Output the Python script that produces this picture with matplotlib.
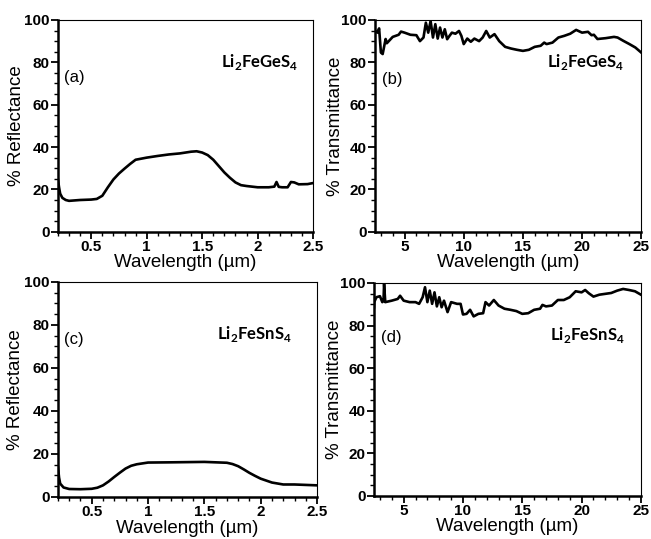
import matplotlib.pyplot as plt
from matplotlib.ticker import MultipleLocator

plt.rcParams['font.family'] = ['Liberation Sans', 'DejaVu Sans']
plt.rcParams['mathtext.fontset'] = 'custom'
plt.rcParams['mathtext.bf'] = 'Lato:bold'
plt.rcParams['mathtext.rm'] = 'Lato'

# (a) diffuse reflectance, Li2FeGeS4
wl_a = [0.2, 0.21, 0.22, 0.24, 0.27, 0.3, 0.4, 0.5, 0.55, 0.6, 0.65, 0.7, 0.75, 0.8, 0.85,
        0.9, 1.0, 1.1, 1.2, 1.3, 1.4, 1.45, 1.5, 1.55, 1.6, 1.65, 1.7, 1.75, 1.8, 1.85,
        1.9, 2.0, 2.1, 2.15, 2.17, 2.19, 2.22, 2.27, 2.3, 2.33, 2.37, 2.45, 2.5]
r_a = [24.7, 21.0, 18.0, 16.0, 15.0, 14.6, 15.0, 15.2, 15.5, 17.0, 21.0, 24.7, 27.5, 29.8, 32.0,
       34.0, 35.0, 35.8, 36.5, 37.0, 37.8, 38.0, 37.4, 36.2, 34.0, 31.0, 28.0, 25.5, 23.3, 22.0,
       21.6, 21.0, 21.0, 21.3, 23.5, 21.2, 21.0, 21.0, 23.5, 23.3, 22.4, 22.5, 23.0]

# (b) transmittance, Li2FeGeS4
wl_b = [2.5, 2.7, 2.85, 3.0, 3.15, 3.4, 3.5, 4.0, 4.5, 4.7, 5.0, 5.5, 6.0, 6.3, 6.6, 6.8,
        7.0, 7.2, 7.4, 7.6, 7.8, 8.0, 8.2, 8.4, 8.6, 8.8, 9.0, 9.3, 9.6, 9.8, 10.0, 10.3,
        10.6, 10.9, 11.3, 11.6, 11.9, 12.2, 12.6, 13.0, 13.5, 14.0, 14.5, 15.0, 15.5, 16.0,
        16.5, 16.8, 17.0, 17.5, 18.0, 18.5, 19.0, 19.5, 20.0, 20.5, 20.8, 21.0, 21.3, 22.0,
        22.7, 23.0, 23.5, 24.0, 24.5, 25.0]
t_b = [95.0, 94.0, 96.0, 84.6, 83.9, 91.0, 89.0, 92.0, 93.0, 94.5, 94.0, 93.0, 92.8, 90.0, 91.7, 98.7,
       94.0, 99.5, 91.7, 98.0, 91.2, 96.4, 91.7, 95.6, 90.9, 92.5, 94.0, 93.5, 94.8, 92.5, 88.6, 91.2,
       89.7, 91.2, 90.0, 91.7, 94.8, 91.7, 93.3, 90.0, 87.3, 86.5, 85.9, 85.4, 85.9, 87.3,
       87.8, 89.3, 88.6, 89.3, 91.7, 92.5, 93.5, 95.3, 94.0, 94.4, 92.8, 93.0, 91.0, 91.4,
       92.0, 91.7, 90.1, 88.6, 87.0, 84.6]

# (c) diffuse reflectance, Li2FeSnS4
wl_c = [0.2, 0.21, 0.22, 0.25, 0.3, 0.4, 0.5, 0.55, 0.6, 0.65, 0.7, 0.75, 0.8, 0.85, 0.9,
        1.0, 1.2, 1.5, 1.7, 1.75, 1.8, 1.85, 1.9, 1.95, 2.0, 2.1, 2.2, 2.3, 2.4, 2.5]
r_c = [14.0, 9.0, 6.2, 4.4, 3.7, 3.6, 3.8, 4.3, 5.4, 7.2, 9.3, 11.3, 13.2, 14.5, 15.2,
       16.0, 16.1, 16.3, 15.9, 15.3, 14.3, 12.8, 11.2, 9.8, 8.5, 6.7, 5.8, 5.8, 5.6, 5.4]

# (d) transmittance, Li2FeSnS4
wl_d = [2.5, 2.52, 2.7, 3.0, 3.2, 3.3, 3.35, 3.45, 4.0, 4.5, 4.7, 5.0, 5.5, 6.0, 6.3, 6.6,
        6.8, 7.0, 7.2, 7.4, 7.6, 7.8, 8.0, 8.2, 8.4, 8.7, 9.0, 9.5, 9.8, 10.0, 10.3, 10.6,
        10.9, 11.3, 11.7, 11.9, 12.2, 12.6, 13.0, 13.5, 14.0, 14.5, 15.0, 15.5, 16.0, 16.5,
        16.7, 17.0, 17.5, 18.0, 18.5, 19.0, 19.5, 20.0, 20.3, 20.6, 21.0, 21.5, 22.0, 22.5,
        23.0, 23.5, 24.0, 24.5, 25.0]
t_d = [88.6, 91.0, 93.3, 93.8, 91.0, 91.5, 99.5, 91.0, 91.7, 92.5, 94.0, 91.7, 91.0, 91.0, 90.2, 93.3,
       98.0, 91.0, 96.4, 90.2, 95.6, 89.0, 93.3, 88.6, 91.7, 86.3, 91.0, 90.2, 90.2, 85.2, 85.5, 87.4,
       84.3, 85.5, 85.8, 91.0, 89.4, 92.0, 89.4, 87.9, 87.4, 86.8, 85.5, 85.8, 87.4, 87.9,
       89.7, 89.0, 89.4, 92.0, 92.0, 93.3, 96.1, 95.6, 96.7, 95.2, 93.6, 94.5, 94.9, 95.3,
       96.4, 97.2, 96.7, 96.1, 94.5]

fig = plt.figure(figsize=(6.51, 5.39), dpi=100)

panels = [
    # rect, x, y, xlim, major, minor, ylabel, tag, tag pos, compound, compound pos, ylabel x
    ([0.089, 0.570, 0.392, 0.393], wl_a, r_a, (0.2, 2.5), 0.5, 0.1, '% Reflectance', '(a)',
     (0.025, 0.726), r'Li$_\mathbf{2}$FeGeS$_\mathbf{4}$', (0.79, 0.80), -0.13),
    ([0.576, 0.570, 0.409, 0.393], wl_b, t_b, (2.5, 25), 5, 1, '% Transmittance', '(b)',
     (0.025, 0.72), r'Li$_\mathbf{2}$FeGeS$_\mathbf{4}$', (0.79, 0.80), -0.115),
    ([0.089, 0.078, 0.398, 0.399], wl_c, r_c, (0.2, 2.5), 0.5, 0.1, '% Reflectance', '(c)',
     (0.025, 0.73), r'Li$_\mathbf{2}$FeSnS$_\mathbf{4}$', (0.76, 0.76), -0.13),
    ([0.5745, 0.080, 0.410, 0.395], wl_d, t_d, (2.5, 25), 5, 1, '% Transmittance', '(d)',
     (0.025, 0.746), r'Li$_\mathbf{2}$FeSnS$_\mathbf{4}$', (0.80, 0.756), -0.115),
]

for rect, x, y, xlim, major, minor, ylabel, tag, tagpos, comp, comppos, ylx in panels:
    ax = fig.add_axes(rect)
    ax.plot(x, y, color='black', linewidth=1.9)
    ax.set_xlim(*xlim)
    ax.set_ylim(0, 100)
    ax.xaxis.set_major_locator(MultipleLocator(major))
    ax.xaxis.set_minor_locator(MultipleLocator(minor))
    ax.yaxis.set_major_locator(MultipleLocator(20))
    ax.yaxis.set_minor_locator(MultipleLocator(5))
    if major == 0.5:
        ax.set_xticks([0.5, 1, 1.5, 2, 2.5])
        ax.set_xticklabels(['0.5', '1', '1.5', '2', '2.5'])
    ax.tick_params(which='major', direction='out', length=5, width=1.3, labelsize=11, pad=1)
    ax.tick_params(which='minor', direction='out', length=3, width=1.0)
    ax.tick_params(top=False, right=False)
    for lab in ax.get_xticklabels() + ax.get_yticklabels():
        lab.set_fontweight('bold')
    ax.spines['left'].set_linewidth(1.8)
    ax.spines['bottom'].set_linewidth(1.8)
    ax.spines['top'].set_linewidth(0.8)
    ax.spines['right'].set_linewidth(0.8)
    ax.set_xlabel('Wavelength (\u00b5m)', fontsize=13.5)
    ax.set_ylabel(ylabel, fontsize=13.5)
    ax.xaxis.set_label_coords(0.5, -0.105)
    ax.yaxis.set_label_coords(ylx, 0.5)
    ax.text(tagpos[0], tagpos[1], tag, transform=ax.transAxes, fontsize=12, va='center', ha='left')
    ax.text(comppos[0], comppos[1], comp, transform=ax.transAxes, fontsize=12, fontweight='bold',
            family=['Lato', 'DejaVu Sans'], va='center', ha='center')

fig.savefig('out.png', dpi=100)
